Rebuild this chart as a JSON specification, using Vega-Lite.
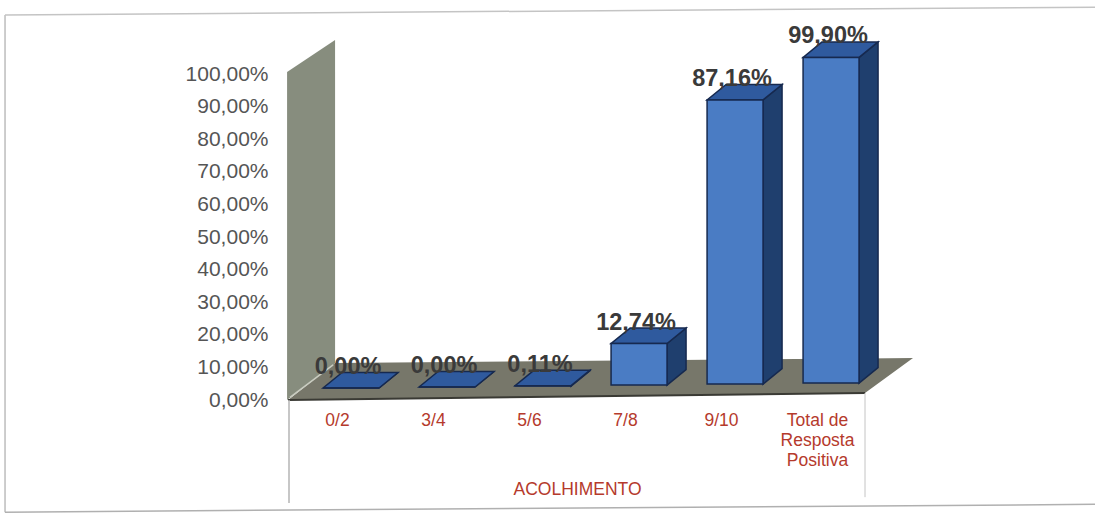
{
"$schema":"https://vega.github.io/schema/vega-lite/v6.json",
"width":576,"height":326,
"autosize":"none",
"padding":{"left":289,"top":74,"right":230,"bottom":114},
"background":"#ffffff",
"config":{"view":{"stroke":null},"font":"Liberation Sans"},
"datasets":{"barras":[
{"categoria":"0/2","valor":0,"ordem":0},
{"categoria":"3/4","valor":0,"ordem":1},
{"categoria":"5/6","valor":0.11,"ordem":2},
{"categoria":"7/8","valor":12.74,"ordem":3},
{"categoria":"9/10","valor":87.16,"ordem":4},
{"categoria":"Total de Resposta Positiva","valor":99.9,"ordem":5}
],"fundo":[{"parte":"cenario"}]},
"layer":[
{"data":{"name":"fundo"},
 "transform":[{"calculate":"[-0.02,0.48]","as":"px"},{"calculate":"[100.6,110.4]","as":"py"},{"calculate":"[0,11.35]","as":"py2"},{"flatten":["px","py","py2"]}],
 "mark":{"type":"area","orient":"vertical","color":"#878d7e"},
 "encoding":{
  "x":{"field":"px","type":"quantitative","scale":{"domain":[0,6],"nice":false,"zero":false},
   "axis":{"title":"ACOLHIMENTO","titleColor":"#b53a2c","titleFontSize":17.5,"titleFontWeight":"normal","titleFont":"Liberation Sans","titleBaseline":"middle","titleY":89,
    "values":[0.5,1.5,2.5,3.5,4.5,5.5],"tickCount":6,"labelExpr":"['0/2','3/4','5/6','7/8','9/10',['Total de','Resposta','Positiva']][floor(datum.value)]",
    "labelColor":"#b53a2c","labelFontSize":17.5,"labelLineHeight":20,"labelPadding":11,"labelOverlap":false,"labelBound":false,"labelFlush":false,"labelAngle":0,"ticks":false,"domain":false,"grid":false}},
  "y":{"field":"py","type":"quantitative","scale":{"domain":[0,100],"nice":false,"zero":false},
   "axis":{"title":null,"values":[0,10,20,30,40,50,60,70,80,90,100],"tickCount":11,"labelExpr":"replace(format(datum.value,'.2f'),'.',',')+'%'",
    "labelColor":"#555555","labelFontSize":21,"labelPadding":21,"labelOverlap":false,"labelBound":false,"ticks":false,"domain":false,"grid":false}},
  "y2":{"field":"py2"}}},
{"data":{"name":"fundo"},
 "transform":[{"calculate":"[-0.01,0.48,6,6.5]","as":"px"},{"calculate":"[0,11.35,12.75,12.88]","as":"py"},{"calculate":"[0,0.17,2.15,12.88]","as":"py2"},{"flatten":["px","py","py2"]}],
 "mark":{"type":"area","orient":"vertical","color":"#77776a"},
 "encoding":{"x":{"field":"px","type":"quantitative","scale":{"domain":[0,6],"nice":false,"zero":false}},
  "y":{"field":"py","type":"quantitative","scale":{"domain":[0,100],"nice":false,"zero":false}},
  "y2":{"field":"py2"}}},
{"data":{"name":"fundo"},"mark":{"type":"rule","color":"#c9ccc0","strokeWidth":1.5},
 "encoding":{"x":{"datum":0.01,"type":"quantitative","scale":{"domain":[0,6],"nice":false,"zero":false}},"x2":{"datum":0.46},
  "y":{"datum":0.8,"type":"quantitative","scale":{"domain":[0,100],"nice":false,"zero":false}},"y2":{"datum":10.8}}},
{"data":{"name":"fundo"},"mark":{"type":"rule","color":"#3a3a34","strokeWidth":2},
 "encoding":{"x":{"datum":-0.01,"type":"quantitative","scale":{"domain":[0,6],"nice":false,"zero":false}},"x2":{"datum":6},
  "y":{"datum":0,"type":"quantitative","scale":{"domain":[0,100],"nice":false,"zero":false}},"y2":{"datum":2.15}}},
{"data":{"name":"fundo"},"mark":{"type":"rule","color":"#b5b5b5","strokeWidth":1.5},
 "encoding":{"x":{"datum":0,"type":"quantitative","scale":{"domain":[0,6],"nice":false,"zero":false}},
  "y":{"datum":0,"type":"quantitative","scale":{"domain":[0,100],"nice":false,"zero":false}},"y2":{"datum":-31.6}}},
{"data":{"name":"fundo"},"mark":{"type":"rule","color":"#c4c4c4","strokeWidth":1},
 "encoding":{"x":{"datum":6,"type":"quantitative","scale":{"domain":[0,6],"nice":false,"zero":false}},
  "y":{"datum":2.15,"type":"quantitative","scale":{"domain":[0,100],"nice":false,"zero":false}},"y2":{"datum":-29.8}}},
{"data":{"name":"fundo"},"mark":{"type":"rule","color":"#bdbdbd","strokeWidth":1.5},
 "encoding":{"x":{"datum":-2.958,"type":"quantitative","scale":{"domain":[0,6],"nice":false,"zero":false}},
  "y":{"datum":118.1,"type":"quantitative","scale":{"domain":[0,100],"nice":false,"zero":false}},"y2":{"datum":-34.4}}},
{"data":{"name":"fundo"},"mark":{"type":"rule","color":"#c4c4c4","strokeWidth":1.5},
 "encoding":{"x":{"datum":-2.958,"type":"quantitative","scale":{"domain":[0,6],"nice":false,"zero":false}},"x2":{"datum":8.4},
  "y":{"datum":118.1,"type":"quantitative","scale":{"domain":[0,100],"nice":false,"zero":false}},"y2":{"datum":120.5}}},
{"data":{"name":"fundo"},"mark":{"type":"rule","color":"#b0b0b0","strokeWidth":1.5},
 "encoding":{"x":{"datum":-2.958,"type":"quantitative","scale":{"domain":[0,6],"nice":false,"zero":false}},"x2":{"datum":8.4},
  "y":{"datum":-34.4,"type":"quantitative","scale":{"domain":[0,100],"nice":false,"zero":false}},"y2":{"datum":-32}}},
{"data":{"name":"barras"},
 "transform":[{"calculate":"datum.ordem+0.355","as":"x0"},{"calculate":"datum.x0+0.583","as":"x1"},{"calculate":"3.68+0.3*datum.ordem","as":"base"},{"calculate":"datum.base+datum.valor","as":"topo"},
  {"calculate":"[0,1]","as":"t"},{"flatten":["t"]},
  {"calculate":"datum.x1+datum.t*0.198","as":"sx"},{"calculate":"datum.topo+datum.t*4.75","as":"sy"},{"calculate":"datum.base+datum.t*4.75","as":"sy2"}],
 "mark":{"type":"area","orient":"vertical","color":"#1f3f6e","stroke":"#16294f","strokeWidth":1.5},
 "encoding":{"detail":{"field":"categoria"},
  "x":{"field":"sx","type":"quantitative","scale":{"domain":[0,6],"nice":false,"zero":false}},
  "y":{"field":"sy","type":"quantitative","scale":{"domain":[0,100],"nice":false,"zero":false}},
  "y2":{"field":"sy2"}}},
{"data":{"name":"barras"},
 "transform":[{"calculate":"datum.ordem+0.355","as":"x0"},{"calculate":"datum.x0+0.583","as":"x1"},{"calculate":"3.68+0.3*datum.ordem","as":"base"},{"calculate":"datum.base+datum.valor","as":"topo"},
  {"calculate":"[0,1]","as":"t"},{"flatten":["t"]},
  {"calculate":"datum.x0+datum.t*0.198","as":"tx"},{"calculate":"datum.x1+datum.t*0.198","as":"tx2"},{"calculate":"datum.topo+datum.t*4.75","as":"ty"}],
 "mark":{"type":"area","orient":"horizontal","color":"#2f5a9e","stroke":"#16294f","strokeWidth":1.5},
 "encoding":{"detail":{"field":"categoria"},
  "y":{"field":"ty","type":"quantitative","scale":{"domain":[0,100],"nice":false,"zero":false}},
  "x":{"field":"tx","type":"quantitative","scale":{"domain":[0,6],"nice":false,"zero":false}},
  "x2":{"field":"tx2"}}},
{"data":{"name":"barras"},
 "transform":[{"calculate":"datum.ordem+0.355","as":"x0"},{"calculate":"datum.x0+0.583","as":"x1"},{"calculate":"3.68+0.3*datum.ordem","as":"base"},{"calculate":"datum.base+datum.valor","as":"topo"}],
 "mark":{"type":"rect","color":"#4a7cc4","stroke":"#16294f","strokeWidth":1.5},
 "encoding":{
  "x":{"field":"x0","type":"quantitative","scale":{"domain":[0,6],"nice":false,"zero":false}},"x2":{"field":"x1"},
  "y":{"field":"base","type":"quantitative","scale":{"domain":[0,100],"nice":false,"zero":false}},"y2":{"field":"topo"}}},
{"data":{"name":"barras"},
 "transform":[{"calculate":"datum.ordem+0.355+0.26","as":"lx"},{"calculate":"3.68+0.3*datum.ordem+datum.valor","as":"topo"},{"calculate":"replace(format(datum.valor,'.2f'),'.',',')+'%'","as":"rotulo"}],
 "mark":{"type":"text","fontSize":23.5,"fontWeight":"bold","color":"#3a3a3a","baseline":"middle","align":"center","dy":-21},
 "encoding":{
  "x":{"field":"lx","type":"quantitative","scale":{"domain":[0,6],"nice":false,"zero":false}},
  "y":{"field":"topo","type":"quantitative","scale":{"domain":[0,100],"nice":false,"zero":false}},
  "text":{"field":"rotulo"}}}
]
}
